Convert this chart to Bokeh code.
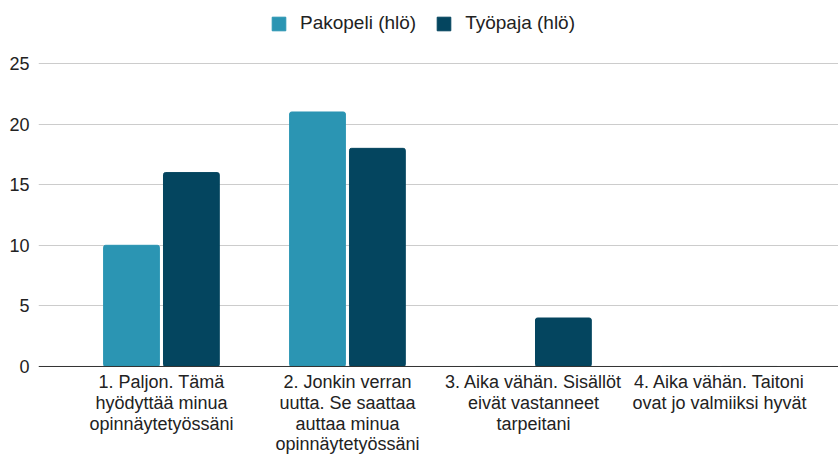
from bokeh.plotting import figure
from bokeh.models import Range1d, FixedTicker, ColumnDataSource, Legend, LegendItem, Span
from bokeh.core.properties import value
from bokeh.embed import file_html
from bokeh.resources import INLINE

categories = [
    "1. Paljon. Tämä\nhyödyttää minua\nopinnäytetyössäni",
    "2. Jonkin verran\nuutta. Se saattaa\nauttaa minua\nopinnäytetyössäni",
    "3. Aika vähän. Sisällöt\neivät vastanneet\ntarpeitani",
    "4. Aika vähän. Taitoni\novat jo valmiiksi hyvät",
]
series_names = ["Pakopeli (hlö)", "Työpaja (hlö)"]
pakopeli = [10, 21, 0, 0]
tyopaja = [16, 18, 4, 0]
y_ticks = [0, 5, 10, 15, 20, 25]

colors = ["#2b95b3", "#04455f"]
FONT = "Liberation Sans"
FS = "18px"

idx = list(range(len(categories)))
offset = 0.161
bw = 0.30

src = ColumnDataSource(dict(
    x1=[i - offset for i in idx], x2=[i + offset for i in idx],
    p=pakopeli, t=tyopaja,
))
lab = ColumnDataSource(dict(x=idx, y=[0] * len(idx), text=categories))

p = figure(width=838, height=457, output_backend="svg", toolbar_location=None,
           x_range=Range1d(-0.661, 3.640), y_range=Range1d(-7.51, 30.2),
           min_border_left=38, min_border_right=0, min_border_top=0, min_border_bottom=0)
p.outline_line_color = None
p.background_fill_color = "white"

r1 = p.vbar(x="x1", top="p", bottom=0, width=bw, source=src, color=colors[0], border_radius=2)
r2 = p.vbar(x="x2", top="t", bottom=0, width=bw, source=src, color=colors[1], border_radius=2)

p.text(x="x", y="y", text="text", source=lab, text_align="center", text_baseline="top",
       y_offset=6, text_font=value(FONT), text_font_size=FS, text_color="#222222",
       text_line_height=1.03)

p.add_layout(Span(location=0, dimension="width", line_color="#333333", line_width=1))

p.xaxis.visible = False

p.yaxis.ticker = FixedTicker(ticks=y_ticks)
p.yaxis.axis_line_color = None
p.yaxis.major_tick_line_color = None
p.yaxis.major_tick_out = 0
p.yaxis.major_tick_in = 0
p.yaxis.minor_tick_line_color = None
p.yaxis.minor_tick_out = 0
p.yaxis.major_label_text_font = FONT
p.yaxis.major_label_text_font_size = FS
p.yaxis.major_label_text_color = "#222222"
p.yaxis.major_label_standoff = 9

p.xgrid.grid_line_color = None
p.ygrid.ticker = FixedTicker(ticks=y_ticks[1:])
p.ygrid.grid_line_color = "#cccccc"
p.ygrid.grid_line_width = 1

legend = Legend(items=[LegendItem(label=series_names[0], renderers=[r1]),
                       LegendItem(label=series_names[1], renderers=[r2])],
                orientation="horizontal", location=(232, 423),
                border_line_color=None, background_fill_alpha=0,
                glyph_width=17, glyph_height=17, label_text_font=FONT,
                label_text_font_size="19px", label_text_color="#222222",
                spacing=19, padding=0, margin=0, label_standoff=13)
p.add_layout(legend, "center")

open("out.html", "w").write(file_html(p, INLINE))
